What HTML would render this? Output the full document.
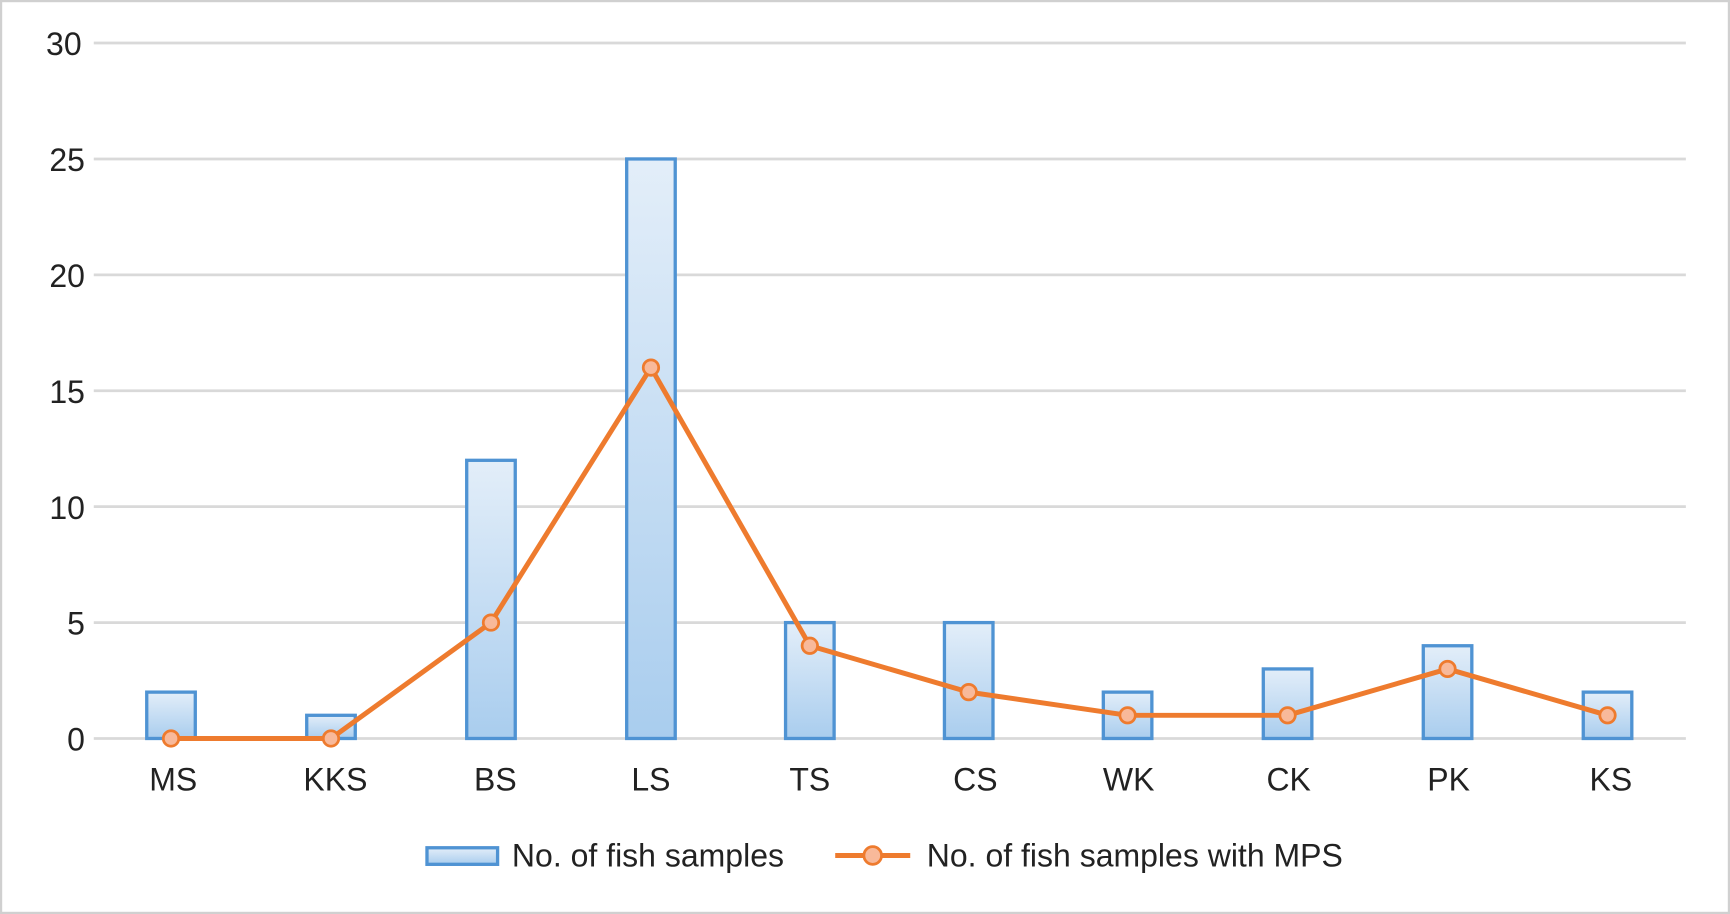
<!DOCTYPE html>
<html><head><style>
html,body{margin:0;padding:0;background:#fff;}
svg{display:block;}
text{font-family:"Liberation Sans",Arial,sans-serif;fill:#222;}
</style></head><body>
<svg width="1730" height="914" viewBox="0 0 1568 828" preserveAspectRatio="none" xmlns="http://www.w3.org/2000/svg">
<defs>
<linearGradient id="g" x1="0" y1="0" x2="0" y2="1">
<stop offset="0" stop-color="#e3eef9"/><stop offset="1" stop-color="#a9cdee"/>
</linearGradient>
</defs>
<rect x="1" y="1" width="1566" height="826" fill="#fff" stroke="#d0d0d0" stroke-width="2"/>
<g stroke="#d9d9d9" stroke-width="2.5">
<line x1="85" x2="1528" y1="39" y2="39"/>
<line x1="85" x2="1528" y1="144" y2="144"/>
<line x1="85" x2="1528" y1="249" y2="249"/>
<line x1="85" x2="1528" y1="354" y2="354"/>
<line x1="85" x2="1528" y1="459" y2="459"/>
<line x1="85" x2="1528" y1="564" y2="564"/>
<line x1="85" x2="1528" y1="669" y2="669"/>
</g>
<g font-size="29" text-anchor="end">
<text x="74" y="50">30</text>
<text x="77" y="155">25</text>
<text x="77" y="260">20</text>
<text x="77" y="365">15</text>
<text x="77" y="470">10</text>
<text x="77" y="575">5</text>
<text x="77" y="680">0</text>
</g>
<g fill="url(#g)" stroke="#4f93d3" stroke-width="3">
<rect x="133" y="627" width="44" height="42"/>
<rect x="278" y="648" width="44" height="21"/>
<rect x="423" y="417" width="44" height="252"/>
<rect x="568" y="144" width="44" height="525"/>
<rect x="712" y="564" width="44" height="105"/>
<rect x="856" y="564" width="44" height="105"/>
<rect x="1000" y="627" width="44" height="42"/>
<rect x="1145" y="606" width="44" height="63"/>
<rect x="1290" y="585" width="44" height="84"/>
<rect x="1435" y="627" width="44" height="42"/>
</g>
<polyline fill="none" stroke="#ee7b2e" stroke-width="4.5" stroke-linejoin="round" points="155,669 300,669 445,564 590,333 734,585 878,627 1022,648 1167,648 1312,606 1457,648"/>
<g fill="#f8b99a" stroke="#ee7b2e" stroke-width="2.5">
<circle cx="155" cy="669" r="7"/><circle cx="300" cy="669" r="7"/><circle cx="445" cy="564" r="7"/>
<circle cx="590" cy="333" r="7"/><circle cx="734" cy="585" r="7"/><circle cx="878" cy="627" r="7"/>
<circle cx="1022" cy="648" r="7"/><circle cx="1167" cy="648" r="7"/><circle cx="1312" cy="606" r="7"/>
<circle cx="1457" cy="648" r="7"/>
</g>
<g font-size="29" text-anchor="middle">
<text x="157" y="716">MS</text><text x="304" y="716">KKS</text><text x="449" y="716">BS</text>
<text x="590" y="716">LS</text><text x="734" y="716">TS</text><text x="884" y="716">CS</text>
<text x="1023" y="716">WK</text><text x="1168" y="716">CK</text><text x="1313" y="716">PK</text>
<text x="1460" y="716">KS</text>
</g>
<rect x="387" y="768" width="64" height="15" fill="url(#g)" stroke="#4f93d3" stroke-width="3"/>
<text x="464" y="785" font-size="29">No. of fish samples</text>
<line x1="757" x2="825" y1="775" y2="775" stroke="#ee7b2e" stroke-width="4.5"/>
<circle cx="791" cy="775" r="8" fill="#f8b99a" stroke="#ee7b2e" stroke-width="2.5"/>
<text x="840" y="785" font-size="29">No. of fish samples with MPS</text>
</svg>
</body></html>
